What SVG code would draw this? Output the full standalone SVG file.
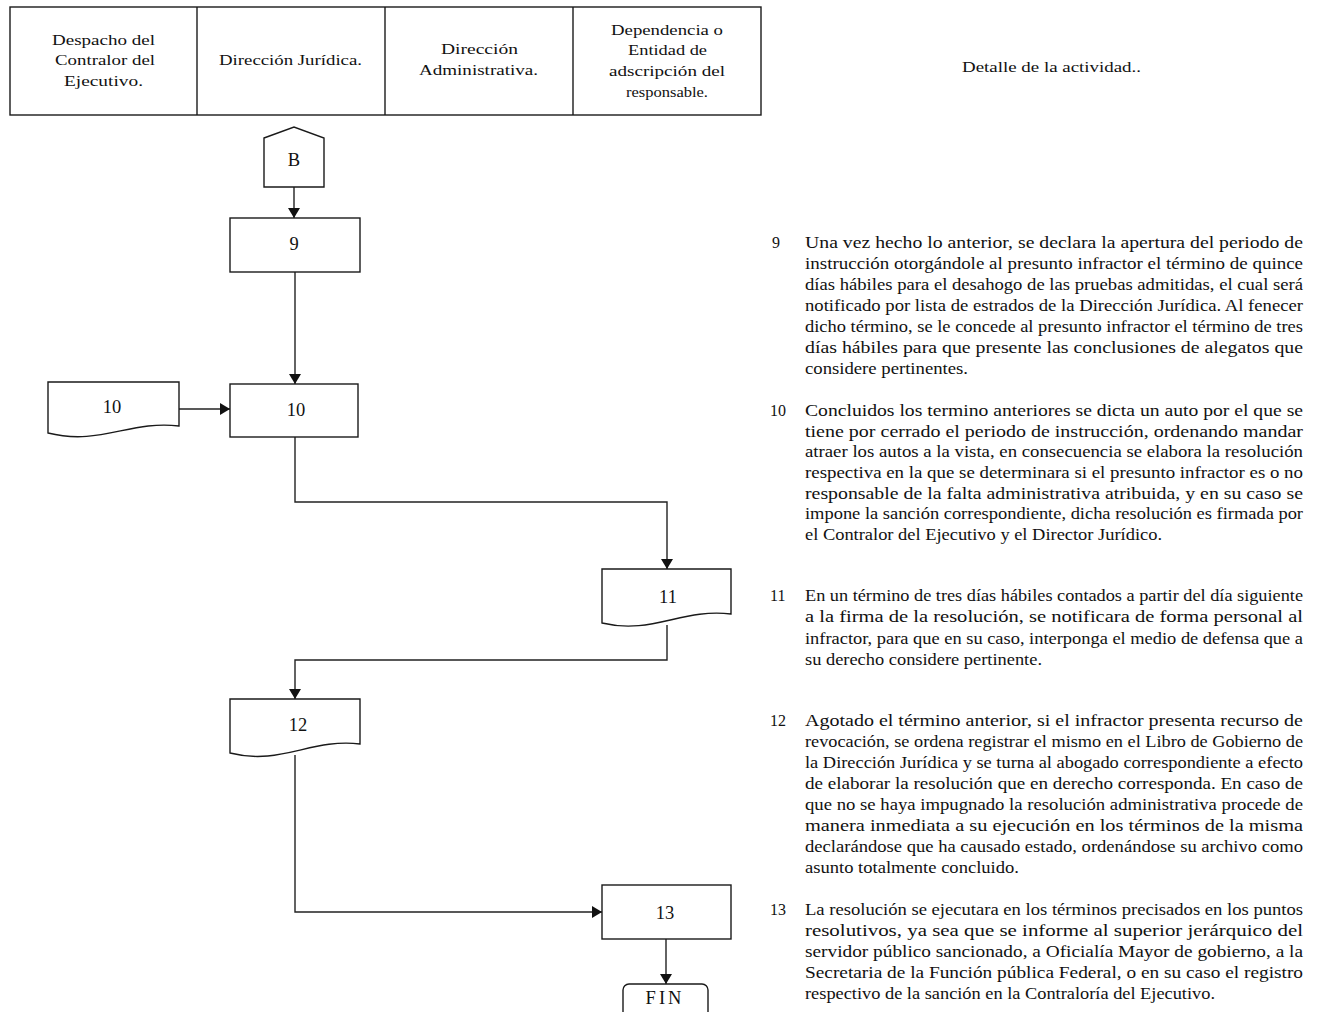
<svg xmlns="http://www.w3.org/2000/svg" width="1318" height="1012" viewBox="0 0 1318 1012">
<defs>
<style>
.sh{fill:#fff;stroke:#1a1a1a;stroke-width:1.4}
.cn{fill:none;stroke:#222;stroke-width:1.4}
.t{font-family:"Liberation Serif","Times New Roman",serif;font-size:15.5px;fill:#111}
.n{font-family:"Liberation Serif","Times New Roman",serif;font-size:18.5px;fill:#111;text-anchor:middle}
.j{font-family:"Liberation Serif","Times New Roman",serif;font-size:16px;fill:#111}
</style>
<marker id="ah" viewBox="0 0 10 12" refX="10" refY="6" markerWidth="10" markerHeight="12" markerUnits="userSpaceOnUse" orient="auto">
<path d="M0,0 L10,6 L0,12 z" fill="#111"/>
</marker>
</defs>
<rect width="1318" height="1012" fill="#fff"/>

<g id="header">
<rect class="sh" x="10" y="7" width="751" height="108"/>
<line class="sh" x1="197" y1="7" x2="197" y2="115"/>
<line class="sh" x1="385" y1="7" x2="385" y2="115"/>
<line class="sh" x1="573" y1="7" x2="573" y2="115"/>
<text class="t" x="52" y="45" textLength="103" lengthAdjust="spacingAndGlyphs">Despacho del</text>
<text class="t" x="55" y="65" textLength="100" lengthAdjust="spacingAndGlyphs">Contralor del</text>
<text class="t" x="64" y="86" textLength="79" lengthAdjust="spacingAndGlyphs">Ejecutivo.</text>
<text class="t" x="219" y="65" textLength="143" lengthAdjust="spacingAndGlyphs">Dirección Jurídica.</text>
<text class="t" x="441" y="54" textLength="77" lengthAdjust="spacingAndGlyphs">Dirección</text>
<text class="t" x="419" y="75" textLength="119" lengthAdjust="spacingAndGlyphs">Administrativa.</text>
<text class="t" x="611" y="35" textLength="112" lengthAdjust="spacingAndGlyphs">Dependencia o</text>
<text class="t" x="628" y="55" textLength="79" lengthAdjust="spacingAndGlyphs">Entidad de</text>
<text class="t" x="609" y="76" textLength="116" lengthAdjust="spacingAndGlyphs">adscripción del</text>
<text class="t" x="626" y="97" textLength="82" lengthAdjust="spacingAndGlyphs">responsable.</text>
<text class="t" x="962" y="72" textLength="179" lengthAdjust="spacingAndGlyphs">Detalle de la actividad..</text>
</g>

<g id="connectors">
<path class="cn" d="M294,187 V218" marker-end="url(#ah)"/>
<path class="cn" d="M295,272 V384" marker-end="url(#ah)"/>
<path class="cn" d="M179,409 H230" marker-end="url(#ah)"/>
<path class="cn" d="M295,437 V502 H667 V569" marker-end="url(#ah)"/>
<path class="cn" d="M667,625 V660 H295 V699" marker-end="url(#ah)"/>
<path class="cn" d="M295,755 V912 H602" marker-end="url(#ah)"/>
<path class="cn" d="M666,939 V984" marker-end="url(#ah)"/>
</g>

<g id="nodeB">
<polygon class="sh" points="264,138 294,127 324,138 324,187 264,187"/>
<text class="n" x="294" y="166">B</text>
</g>
<g id="node9">
<rect class="sh" x="230" y="218" width="130" height="54"/>
<text class="n" x="294" y="250">9</text>
</g>
<g id="doc10">
<path class="sh" d="M48,382 H179 V426 C130,420 100,446 48,433 Z"/>
<text class="n" x="112" y="413">10</text>
</g>
<g id="node10">
<rect class="sh" x="230" y="384" width="128" height="53"/>
<text class="n" x="296" y="416">10</text>
</g>
<g id="doc11">
<path class="sh" d="M602,569 H731 V614 C682,608 652,635 602,623 Z"/>
<text class="n" x="668" y="603">11</text>
</g>
<g id="doc12">
<path class="sh" d="M230,699 H360 V744 C311,738 281,766 230,753 Z"/>
<text class="n" x="298" y="731">12</text>
</g>
<g id="node13">
<rect class="sh" x="602" y="885" width="129" height="54"/>
<text class="n" x="665" y="919">13</text>
</g>
<g id="fin">
<rect class="sh" x="623" y="984" width="85" height="45" rx="6"/>
<text class="n" x="665" y="1004" letter-spacing="3">FIN</text>
</g>

<g id="detail9">
<text class="j" x="772" y="248">9</text>
<text class="j" x="805" y="248" textLength="498" lengthAdjust="spacingAndGlyphs">Una vez hecho lo anterior, se declara la apertura del periodo de</text>
<text class="j" x="805" y="269" textLength="498" lengthAdjust="spacingAndGlyphs">instrucción otorgándole al presunto infractor el término de quince</text>
<text class="j" x="805" y="290" textLength="498" lengthAdjust="spacingAndGlyphs">días hábiles para el desahogo de las pruebas admitidas, el cual será</text>
<text class="j" x="805" y="311" textLength="498" lengthAdjust="spacingAndGlyphs">notificado por lista de estrados de la Dirección Jurídica. Al fenecer</text>
<text class="j" x="805" y="332" textLength="498" lengthAdjust="spacingAndGlyphs">dicho término, se le concede al presunto infractor el término de tres</text>
<text class="j" x="805" y="353" textLength="498" lengthAdjust="spacingAndGlyphs">días hábiles para que presente las conclusiones de alegatos que</text>
<text class="j" x="805" y="374" textLength="163" lengthAdjust="spacingAndGlyphs">considere pertinentes.</text>
</g>
<g id="detail10">
<text class="j" x="770" y="416">10</text>
<text class="j" x="805" y="416" textLength="498" lengthAdjust="spacingAndGlyphs">Concluidos los termino anteriores se dicta un auto por el que se</text>
<text class="j" x="805" y="437" textLength="498" lengthAdjust="spacingAndGlyphs">tiene por cerrado el periodo de instrucción, ordenando mandar</text>
<text class="j" x="805" y="457" textLength="498" lengthAdjust="spacingAndGlyphs">atraer los autos a la vista, en consecuencia se elabora la resolución</text>
<text class="j" x="805" y="478" textLength="498" lengthAdjust="spacingAndGlyphs">respectiva en la que se determinara si el presunto infractor es o no</text>
<text class="j" x="805" y="499" textLength="498" lengthAdjust="spacingAndGlyphs">responsable de la falta administrativa atribuida, y en su caso se</text>
<text class="j" x="805" y="519" textLength="498" lengthAdjust="spacingAndGlyphs">impone la sanción correspondiente, dicha resolución es firmada por</text>
<text class="j" x="805" y="540" textLength="357" lengthAdjust="spacingAndGlyphs">el Contralor del Ejecutivo y el Director Jurídico.</text>
</g>
<g id="detail11">
<text class="j" x="770" y="601">11</text>
<text class="j" x="805" y="601" textLength="498" lengthAdjust="spacingAndGlyphs">En un término de tres días hábiles contados a partir del día siguiente</text>
<text class="j" x="805" y="622" textLength="498" lengthAdjust="spacingAndGlyphs">a la firma de la resolución, se notificara de forma personal al</text>
<text class="j" x="805" y="644" textLength="498" lengthAdjust="spacingAndGlyphs">infractor, para que en su caso, interponga el medio de defensa que a</text>
<text class="j" x="805" y="665" textLength="237" lengthAdjust="spacingAndGlyphs">su derecho considere pertinente.</text>
</g>
<g id="detail12">
<text class="j" x="770" y="726">12</text>
<text class="j" x="805" y="726" textLength="498" lengthAdjust="spacingAndGlyphs">Agotado el término anterior, si el infractor presenta recurso de</text>
<text class="j" x="805" y="747" textLength="498" lengthAdjust="spacingAndGlyphs">revocación, se ordena registrar el mismo en el Libro de Gobierno de</text>
<text class="j" x="805" y="768" textLength="498" lengthAdjust="spacingAndGlyphs">la Dirección Jurídica y se turna al abogado correspondiente a efecto</text>
<text class="j" x="805" y="789" textLength="498" lengthAdjust="spacingAndGlyphs">de elaborar la resolución que en derecho corresponda. En caso de</text>
<text class="j" x="805" y="810" textLength="498" lengthAdjust="spacingAndGlyphs">que no se haya impugnado la resolución administrativa procede de</text>
<text class="j" x="805" y="831" textLength="498" lengthAdjust="spacingAndGlyphs">manera inmediata a su ejecución en los términos de la misma</text>
<text class="j" x="805" y="852" textLength="498" lengthAdjust="spacingAndGlyphs">declarándose que ha causado estado, ordenándose su archivo como</text>
<text class="j" x="805" y="873" textLength="214" lengthAdjust="spacingAndGlyphs">asunto totalmente concluido.</text>
</g>
<g id="detail13">
<text class="j" x="770" y="915">13</text>
<text class="j" x="805" y="915" textLength="498" lengthAdjust="spacingAndGlyphs">La resolución se ejecutara en los términos precisados en los puntos</text>
<text class="j" x="805" y="936" textLength="498" lengthAdjust="spacingAndGlyphs">resolutivos, ya sea que se informe al superior jerárquico del</text>
<text class="j" x="805" y="957" textLength="498" lengthAdjust="spacingAndGlyphs">servidor público sancionado, a Oficialía Mayor de gobierno, a la</text>
<text class="j" x="805" y="978" textLength="498" lengthAdjust="spacingAndGlyphs">Secretaria de la Función pública Federal, o en su caso el registro</text>
<text class="j" x="805" y="999" textLength="410" lengthAdjust="spacingAndGlyphs">respectivo de la sanción en la Contraloría del Ejecutivo.</text>
</g>
</svg>
